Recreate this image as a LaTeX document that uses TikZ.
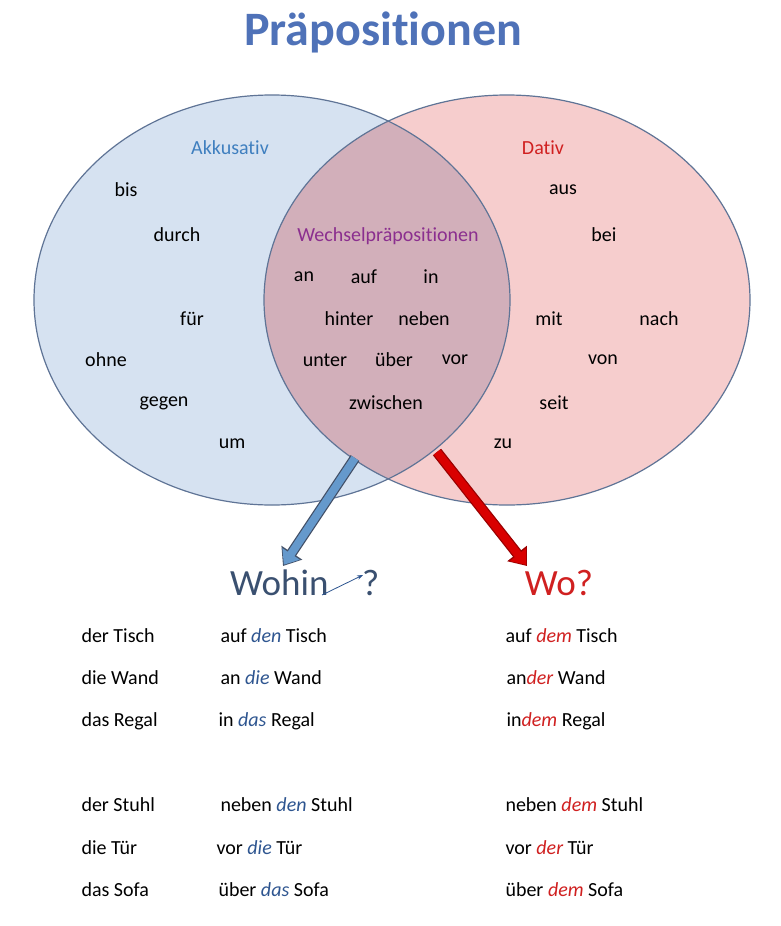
\documentclass[tikz,border=0pt]{standalone}
\usepackage{fontspec}
\setmainfont{Carlito}[Ligatures=NoCommon]
\usetikzlibrary{arrows.meta,calc}
\definecolor{lblue}{HTML}{D6E2F1}
\definecolor{lpink}{HTML}{F6CDCD}
\definecolor{lens}{HTML}{D2AFBA}
\definecolor{edge}{HTML}{5F7496}
\definecolor{titleblue}{HTML}{4F72B8}
\definecolor{akk}{HTML}{3F7FBF}
\definecolor{dred}{HTML}{D02020}
\definecolor{wp}{HTML}{8B2F8F}
\definecolor{wohin}{HTML}{3A5070}
\definecolor{ablue}{HTML}{2E5590}
\begin{document}
\begin{tikzpicture}[x=1pt,y=-1pt,
  w/.style={font=\fontsize{20}{23}\selectfont},
  t/.style={font=\fontsize{20}{23}\selectfont,anchor=west}]
\useasboundingbox (0,0) rectangle (780,926);
\fill[white] (0,0) rectangle (780,926);
\node[font=\fontsize{48}{52}\selectfont\bfseries,text=titleblue] (title) at (383,32) {Präpositionen};
\fill[lblue] (272,300) ellipse [x radius=238,y radius=205];
\fill[lpink] (507,300) ellipse [x radius=243,y radius=205];
\begin{scope}
\clip (272,300) ellipse [x radius=238,y radius=205];
\fill[lens] (507,300) ellipse [x radius=243,y radius=205];
\end{scope}
\draw[edge,line width=1.2pt] (272,300) ellipse [x radius=238,y radius=205];
\draw[edge,line width=1.2pt] (507,300) ellipse [x radius=243,y radius=205];
\node[w,text=akk] (akk) at (230,148) {Akkusativ};
\node[w,text=dred] (dat) at (543,148) {Dativ};
\node[w,text=wp] (wp) at (388,236) {Wechselpräpositionen};
\foreach \n/\x/\y/\s in {a1/126/190/bis,a2/177/235/durch,a3/192/319/für,a4/106/360/ohne,a5/164/403/gegen,a6/232/444/um,
 d1/563/190/aus,d2/604/235/bei,d3/549/319/mit,d4/659/319/nach,d5/603/360/von,d6/554/403/seit,d7/503/444/zu,
 m1/304/277/an,m2/364/277/auf,m3/431/277/in,m4/349/319/hinter,m5/424/319/neben,m6/325/360/unter,m7/394/360/über,m8/455/360/vor,m9/386/403/zwischen}
  \node[w] (\n) at (\x,\y) {\s};
\coordinate (bs) at (355,458); \coordinate (be) at (283,566);
\coordinate (rs) at (437,452); \coordinate (re) at (527,566);
\draw[draw=edge!70!black,line width=10.5pt,-{Triangle[length=16pt,width=24pt]}] (bs) -- (be);
\draw[draw=akk!80!white,line width=8pt,-{Triangle[length=13pt,width=20pt]}] (bs) -- ($(be)!1.5pt!(bs)$);
\draw[draw=red!60!black,line width=10.5pt,-{Triangle[length=16pt,width=24pt]}] (rs) -- (re);
\draw[draw=red!85!black,line width=8pt,-{Triangle[length=13pt,width=20pt]}] (rs) -- ($(re)!1.5pt!(rs)$);
\node[font=\fontsize{37}{40}\selectfont,text=wohin,anchor=west,inner sep=0pt] (wo1) at (230,583) {Wohin};
\node[font=\fontsize{37}{40}\selectfont,text=wohin,anchor=west,inner sep=0pt] (wq) at (362,583) {?};
\coordinate (sa) at (322,595); \coordinate (sb) at (363,575);
\draw[ablue,line width=0.8pt,-{Stealth[length=6pt]}] (sa) -- (sb);
\node[font=\fontsize{37}{40}\selectfont,text=dred] (wo2) at (559,583) {Wo?};
\newcommand{\bl}[1]{\textit{\textcolor{ablue}{#1}}}
\newcommand{\rd}[1]{\textit{\textcolor{dred}{#1}}}
\node[t] (c1) at (78,636) {der Tisch};
\node[t] (c2) at (78,678) {die Wand};
\node[t] (c3) at (78,721) {das Regal};
\node[t] (c4) at (78,805) {der Stuhl};
\node[t] (c5) at (78,848) {die Tür};
\node[t] (c6) at (78,890) {das Sofa};
\node[t] (b1) at (217,636) {auf \bl{den} Tisch};
\node[t] (b2) at (217,678) {an \bl{die} Wand};
\node[t] (b3) at (215,721) {in \bl{das} Regal};
\node[t] (b4) at (217,805) {neben \bl{den} Stuhl};
\node[t] (b5) at (213,848) {vor \bl{die} Tür};
\node[t] (b6) at (215,890) {über \bl{das} Sofa};
\node[t] (r1) at (502,636) {auf \rd{dem} Tisch};
\node[t] (r2) at (503,678) {an\rd{der} Wand};
\node[t] (r3) at (503,721) {in\rd{dem} Regal};
\node[t] (r4) at (502,805) {neben \rd{dem} Stuhl};
\node[t] (r5) at (502,848) {vor \rd{der} Tür};
\node[t] (r6) at (502,890) {über \rd{dem} Sofa};
\end{tikzpicture}
\end{document}
